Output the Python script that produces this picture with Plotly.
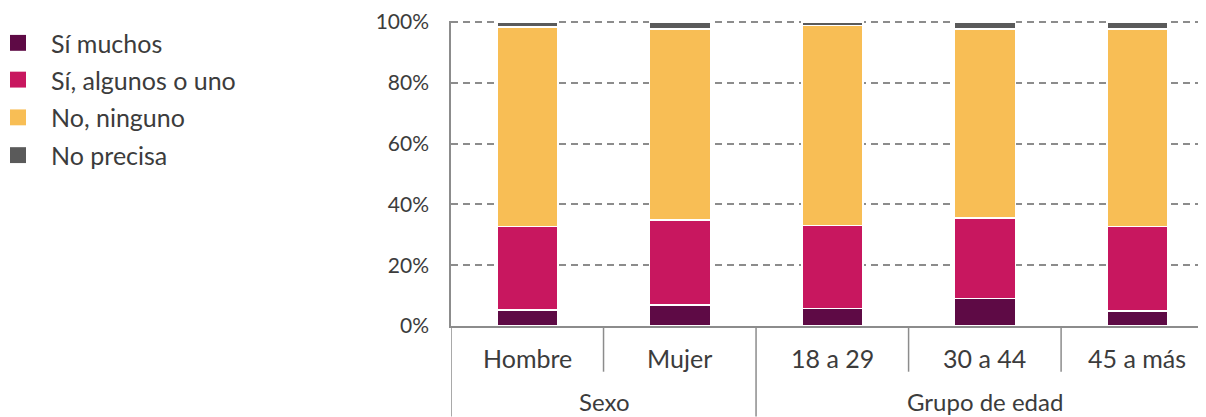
import plotly.graph_objects as go

categories = ["Hombre", "Mujer", "18 a 29", "30 a 44", "45 a más"]
groups = ["Sexo", "Grupo de edad"]
group_members = [2, 3]
series_names = ["Sí muchos", "Sí, algunos o uno", "No, ninguno", "No precisa"]
si_muchos = [5.3, 6.9, 5.8, 9.1, 4.9]
si_algunos = [27.5, 27.9, 27.3, 26.4, 27.9]
no_ninguno = [65.6, 62.9, 65.8, 62.3, 65.0]
no_precisa = [1.6, 2.3, 1.1, 2.2, 2.2]
colors = ["#5E0A45", "#C8175F", "#F8BE55", "#5A5A5A"]
y_ticks = [0, 20, 40, 60, 80, 100]

FONT = "Lato"
TXT = "#3C3C3C"
LINE = "#8C8C8C"

# page offset of the figure (default body margin)
OFF = 8
W, Hf = 1206 - OFF, 417 - OFF
L, T, B = 451 - OFF, 19 - OFF, 91
PW = W - L
PH = Hf - T - B
YMAX = 100.35


def px_x(page_x):
    return (page_x - 451) / PW


def px_y(page_y):
    return (326 - page_y) / PH


fig = go.Figure()
for i, (name, vals) in enumerate(zip(series_names, [si_muchos, si_algunos, no_ninguno, no_precisa])):
    fig.add_trace(go.Bar(
        x=categories, y=vals, name=name, width=0.4,
        marker=dict(color=colors[i], line=dict(color="white", width=1.5)),
        showlegend=False,
    ))

shapes = []
annotations = []

# left axis extension down
shapes.append(dict(type="line", xref="x", yref="paper", x0=-0.5, x1=-0.5, y0=0, y1=px_y(417),
                   line=dict(color=LINE, width=1.5)))
pos = -0.5
for gi, n in enumerate(group_members):
    for k in range(1, n):
        xd = pos + k
        shapes.append(dict(type="line", xref="x", yref="paper", x0=xd, x1=xd, y0=0, y1=px_y(372),
                           line=dict(color=LINE, width=1.5)))
    pos += n
    if gi < len(group_members) - 1:
        shapes.append(dict(type="line", xref="x", yref="paper", x0=pos, x1=pos, y0=0, y1=px_y(417),
                           line=dict(color=LINE, width=1.5)))

for i, c in enumerate(categories):
    annotations.append(dict(x=i, y=px_y(358), xref="x", yref="paper", text=c, showarrow=False,
                            font=dict(family=FONT, size=25, color=TXT), yanchor="middle"))
start = 0
for g, n in zip(groups, group_members):
    center = start + (n - 1) / 2
    annotations.append(dict(x=center, y=px_y(402), xref="x", yref="paper", text=g, showarrow=False,
                            font=dict(family=FONT, size=24, color=TXT), yanchor="middle"))
    start += n

# legend (drawn manually to match square size/spacing)
legend_y = [41, 78, 116, 154]
for name, col, ly in zip(series_names, colors, legend_y):
    shapes.append(dict(type="rect", xref="paper", yref="paper",
                       x0=px_x(10), x1=px_x(26), y0=px_y(ly + 8), y1=px_y(ly - 8),
                       fillcolor=col, line=dict(width=0)))
    annotations.append(dict(x=px_x(49), y=px_y(ly), xref="paper", yref="paper", text=name,
                            showarrow=False, xanchor="left", yanchor="middle",
                            font=dict(family=FONT, size=25, color=TXT)))

fig.update_layout(
    width=W, height=Hf,
    margin=dict(l=L, r=0, t=T, b=B),
    barmode="stack",
    plot_bgcolor="white", paper_bgcolor="white",
    font=dict(family=FONT, size=21, color=TXT),
    shapes=shapes, annotations=annotations,
    showlegend=False,
)
fig.update_xaxes(range=[-0.5, 4.45], showticklabels=False, showgrid=False, ticks="",
                 showline=True, linecolor=LINE, linewidth=1.5, zeroline=False, fixedrange=True)
fig.update_yaxes(range=[0, YMAX], tickvals=y_ticks, ticktext=[f"{v}%" for v in y_ticks],
                 showgrid=True, gridcolor=LINE, gridwidth=1.5, griddash="7px,5px",
                 showline=True, linecolor=LINE, linewidth=1.5, zeroline=False,
                 tickfont=dict(family=FONT, size=21, color=TXT), ticks="", ticklabelstandoff=16,
                 ticklabeloverflow="allow")

fig.write_html("out.html")
